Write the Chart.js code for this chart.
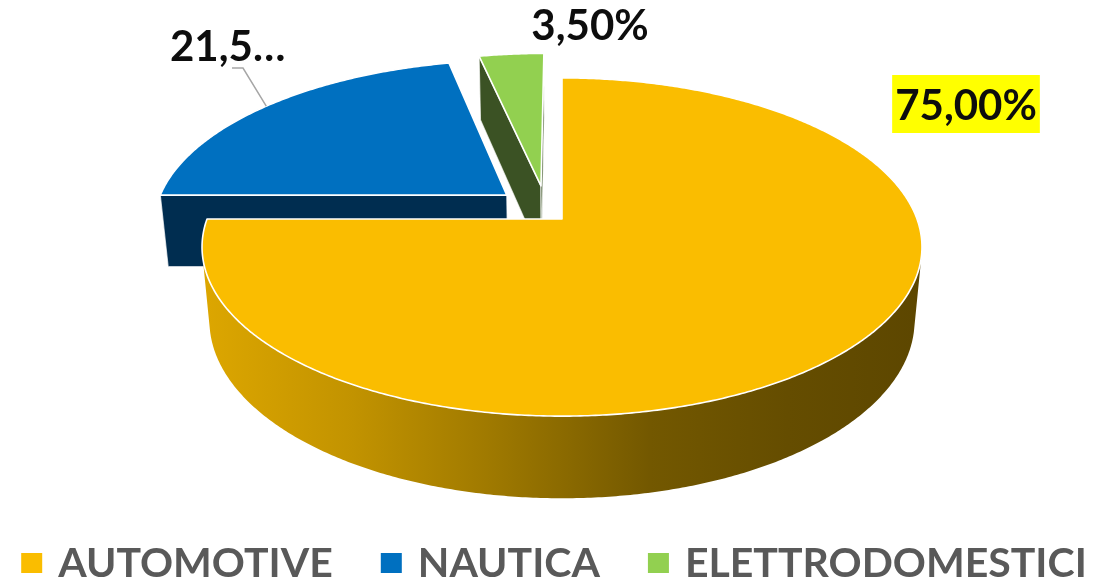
<!DOCTYPE html>
<html>
<head>
<meta charset="utf-8">
<script src="https://cdn.jsdelivr.net/npm/chart.js@4.4.1/dist/chart.umd.min.js"></script>
<style>
  html, body { margin: 0; padding: 0; background: #ffffff; }
  canvas { display: block; }
</style>
</head>
<body>
<canvas id="chart" width="1096" height="580"></canvas>
<script>
// Sector shares (percent of turnover)
const categories = ['AUTOMOTIVE', 'NAUTICA', 'ELETTRODOMESTICI'];
const shares = [75.00, 21.50, 3.50];
const topColors = ['#FABD00', '#0070C0', '#92D050'];
const sideColors = ['#8E6D00', '#002D50', '#3B5224'];

// Exploded slices: distance (in radii) and a small turn of the explosion direction
const explode = [0, 0.218, 0.217];
const explodeTurnDeg = [0, 4.3, -10.1];

const FONT = '"Lato", "Open Sans", "DejaVu Sans", sans-serif';

// Camera for the tilted disc: elevation, distance (radii), pixels per radius, thickness (radii)
const view = { tilt: 27.6 * Math.PI / 180, dist: 5.35, scale: 355, depth: 0.236 };

// Data-label placement (Excel-style "best fit" spots)
const labelSpots = [
  { x: 966, y: 120, align: 'center', box: '#FFFF00' },
  { x: 170, y: 61, align: 'left', maxWidth: 120, leader: [[232, 68], [243, 68]] },
  { x: 590, y: 40, align: 'center' }
];

function fmtPercent(v) {
  return v.toFixed(2).replace('.', ',') + '%';
}

function fitText(ctx, text, maxWidth) {
  if (!maxWidth || ctx.measureText(text).width <= maxWidth) return text;
  let s = text;
  while (s.length > 1 && ctx.measureText(s + '\u2026').width > maxWidth) s = s.slice(0, -1);
  return s + '\u2026';
}

function poly(ctx, pts) {
  ctx.beginPath();
  ctx.moveTo(pts[0][0], pts[0][1]);
  for (let k = 1; k < pts.length; k++) ctx.lineTo(pts[k][0], pts[k][1]);
  ctx.closePath();
}

function makeProjector(cx, cy) {
  const sa = Math.sin(view.tilt), ca = Math.cos(view.tilt);
  const F = view.scale * view.dist;
  return (u, v, h) => {
    const yc = -v * sa + h * ca;
    const z = view.dist - (v * ca + h * sa);
    return [cx + F * u / z, cy - F * yc / z];
  };
}

function slicesOf(chart) {
  const meta = chart.getDatasetMeta(0);
  return meta.data.map((arc, i) => {
    const s = arc.startAngle, e = arc.endAngle;
    const dir = (s + e) / 2 + explodeTurnDeg[i] * Math.PI / 180;
    const ou = explode[i] * Math.cos(dir), ov = explode[i] * Math.sin(dir);
    const n = Math.max(2, Math.ceil((e - s) / (Math.PI / 360)));
    const angles = [];
    for (let k = 0; k <= n; k++) angles.push(s + (e - s) * k / n);
    const c = (s + e) / 2;
    const depthKey = ov + 0.5 * Math.sin(c) * ((e - s) < Math.PI ? 1 : 0.3);
    return { i, s, e, ou, ov, angles, depthKey, arc };
  });
}

function drawPie3d(chart) {
  const ctx = chart.ctx;
  const arcs = chart.getDatasetMeta(0).data;
  if (!arcs.length) return;
  const cx = arcs[0].x, cy = arcs[0].y;
  const P = makeProjector(cx, cy);
  const t = view.depth;
  const camV = view.dist * Math.cos(view.tilt);
  const slices = slicesOf(chart).sort((a, b) => a.depthKey - b.depthKey);

  ctx.save();
  ctx.lineJoin = 'round';
  for (const sl of slices) {
    const { i, s, e, ou, ov, angles } = sl;
    const rim = (a, h) => P(ou + Math.cos(a), ov + Math.sin(a), h);

    let sideFill = sideColors[i];
    if (i === 0) {
      const xl = P(ou - 1, ov, 0)[0], xr = P(ou + 1, ov + 0.26, 0)[0];
      const g = ctx.createLinearGradient(xl, 0, xr, 0);
      g.addColorStop(0, '#DCA600');
      g.addColorStop(0.2, '#C29300');
      g.addColorStop(0.385, '#A07A00');
      g.addColorStop(0.61, '#735800');
      g.addColorStop(0.8, '#654D00');
      g.addColorStop(1, '#5C4600');
      sideFill = g;
    }

    // curved outer wall, only where it faces the camera
    let run = [];
    const flush = () => {
      if (run.length > 1) {
        const top = run.map(a => rim(a, 0));
        const bot = run.map(a => rim(a, -t)).reverse();
        poly(ctx, top.concat(bot));
        ctx.fillStyle = sideFill;
        ctx.fill();
      }
      run = [];
    };
    for (const a of angles) {
      const vis = -ou * Math.cos(a) - ov * Math.sin(a) - 1 + camV * Math.sin(a) > 0;
      if (vis) run.push(a); else flush();
    }
    flush();

    // radial cut faces
    const cutFace = (a) => {
      poly(ctx, [P(ou, ov, 0), rim(a, 0), rim(a, -t), P(ou, ov, -t)]);
      ctx.fillStyle = sideFill;
      ctx.fill();
      ctx.strokeStyle = 'rgba(255,255,255,0.7)';
      ctx.lineWidth = 1.2;
      ctx.stroke();
    };
    if (-ou * Math.sin(s) - Math.cos(s) * (camV - ov) > 1e-6) cutFace(s);
    if (ou * Math.sin(e) + Math.cos(e) * (camV - ov) > 1e-6) cutFace(e);

    // top face
    poly(ctx, [P(ou, ov, 0)].concat(angles.map(a => rim(a, 0))));
    ctx.fillStyle = topColors[i];
    ctx.fill();
    ctx.strokeStyle = '#FFFFFF';
    ctx.lineWidth = 1.6;
    ctx.stroke();
  }
  ctx.restore();
}

function drawLabels(chart) {
  const ctx = chart.ctx;
  const arcs = chart.getDatasetMeta(0).data;
  const P = makeProjector(arcs[0].x, arcs[0].y);
  const slices = slicesOf(chart);
  const total = shares.reduce((a, b) => a + b, 0);
  ctx.save();
  ctx.font = 'bold 42px ' + FONT;
  ctx.textBaseline = 'alphabetic';
  shares.forEach((v, i) => {
    const spot = labelSpots[i];
    const text = fitText(ctx, fmtPercent(v / total * 100), spot.maxWidth);
    const w = ctx.measureText(text).width;
    const left = spot.align === 'center' ? spot.x - w / 2 : spot.x;
    if (spot.box) {
      ctx.fillStyle = spot.box;
      ctx.fillRect(left - 3, spot.y - 45, w + 6, 58);
    }
    if (spot.leader) {
      const sl = slices[i];
      const c = (sl.s + sl.e) / 2;
      const end = P(sl.ou + Math.cos(c), sl.ov + Math.sin(c), 0);
      ctx.beginPath();
      ctx.moveTo(spot.leader[0][0], spot.leader[0][1]);
      for (let k = 1; k < spot.leader.length; k++) ctx.lineTo(spot.leader[k][0], spot.leader[k][1]);
      ctx.lineTo(end[0], end[1]);
      ctx.strokeStyle = '#A6A6A6';
      ctx.lineWidth = 1.5;
      ctx.stroke();
    }
    ctx.fillStyle = '#0D0D0D';
    ctx.textAlign = 'left';
    ctx.fillText(text, left, spot.y);
  });
  ctx.restore();
}

function drawLegend(chart) {
  const ctx = chart.ctx;
  const ds = chart.data.datasets[0];
  const box = 21, boxH = 20, gap = 16, itemGap = 48;
  ctx.save();
  ctx.font = 'bold 41px ' + FONT;
  ctx.textBaseline = 'alphabetic';
  const widths = chart.data.labels.map(l => ctx.measureText(l).width);
  const total = widths.reduce((a, w) => a + box + gap + w, 0) + itemGap * (widths.length - 1);
  let x = chart.width / 2 + 6 - total / 2;
  const baseline = 577;
  chart.data.labels.forEach((label, i) => {
    ctx.fillStyle = ds.backgroundColor[i];
    ctx.fillRect(x, 553, box, boxH);
    x += box + gap;
    ctx.fillStyle = '#595959';
    ctx.fillText(label, x, baseline);
    x += widths[i] + itemGap;
  });
  ctx.restore();
}

const pie3d = {
  id: 'pie3d',
  beforeDatasetsDraw(chart) {
    drawPie3d(chart);
    return false;
  },
  afterDraw(chart) {
    drawLabels(chart);
    drawLegend(chart);
  }
};

new Chart(document.getElementById('chart'), {
  type: 'pie',
  data: {
    labels: categories,
    datasets: [{
      data: shares,
      backgroundColor: topColors,
      borderWidth: 0
    }]
  },
  options: {
    responsive: false,
    devicePixelRatio: 1,
    animation: false,
    layout: { padding: { left: 28, right: 0, top: 0, bottom: 142 } },
    plugins: {
      legend: { display: false },
      tooltip: { enabled: false }
    }
  },
  plugins: [pie3d]
});
</script>
</body>
</html>
